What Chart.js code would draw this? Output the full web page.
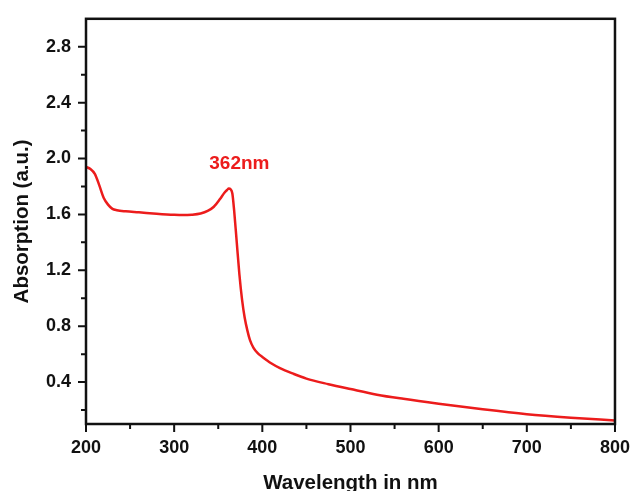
<!DOCTYPE html>
<html>
<head>
<meta charset="utf-8">
<script src="https://cdn.jsdelivr.net/npm/chart.js@4.4.1/dist/chart.umd.min.js"></script>
<style>
  html, body { margin: 0; padding: 0; background: #fff; }
  #wrap { width: 636px; height: 491px; }
</style>
</head>
<body>
<div id="wrap"><canvas id="uvChart" width="636" height="491"></canvas></div>
<script>
// UV-Vis absorption spectrum
const wavelengths = [200, 205, 210, 215, 220, 225, 230, 235, 245, 260, 280, 300, 310, 320, 330, 338, 345, 352, 357, 360, 362, 364, 366, 368, 371, 374, 377, 380, 383, 386, 390, 395, 400, 410, 420, 435, 450, 475, 500, 530, 560, 600, 650, 700, 750, 800];
const absorption = [1.94, 1.925, 1.89, 1.81, 1.72, 1.67, 1.64, 1.63, 1.622, 1.615, 1.605, 1.597, 1.595, 1.598, 1.607, 1.625, 1.655, 1.71, 1.755, 1.775, 1.785, 1.78, 1.75, 1.63, 1.40, 1.17, 0.99, 0.86, 0.77, 0.70, 0.645, 0.605, 0.58, 0.535, 0.50, 0.46, 0.425, 0.385, 0.35, 0.31, 0.28, 0.245, 0.205, 0.17, 0.145, 0.125];

const xMajorTicks = [200, 300, 400, 500, 600, 700, 800];
const xMinorTicks = [250, 350, 450, 550, 650, 750];
const yMajorTicks = [0.4, 0.8, 1.2, 1.6, 2.0, 2.4, 2.8];
const yMinorTicks = [0.2, 0.6, 1.0, 1.4, 1.8, 2.2, 2.6];

const peakText = '362nm';
const peakLabelAt = [374, 1.96];

const red = '#ec1c1c';
const black = '#111';

// frame, major/minor ticks and the peak label
const framePlugin = {
    id: 'frame',
    afterDraw(chart) {
        const { ctx, chartArea: a, scales } = chart;
        ctx.save();
        ctx.strokeStyle = black;
        ctx.lineWidth = 2.5;
        ctx.strokeRect(a.left, a.top, a.right - a.left, a.bottom - a.top);

        ctx.lineWidth = 2;
        ctx.beginPath();
        xMajorTicks.forEach(v => {
            const x = scales.x.getPixelForValue(v);
            ctx.moveTo(x, a.bottom); ctx.lineTo(x, a.bottom + 8);
        });
        xMinorTicks.forEach(v => {
            const x = scales.x.getPixelForValue(v);
            ctx.moveTo(x, a.bottom); ctx.lineTo(x, a.bottom + 5);
        });
        yMajorTicks.forEach(v => {
            const y = scales.y.getPixelForValue(v);
            ctx.moveTo(a.left, y); ctx.lineTo(a.left - 8, y);
        });
        yMinorTicks.forEach(v => {
            const y = scales.y.getPixelForValue(v);
            ctx.moveTo(a.left, y); ctx.lineTo(a.left - 5, y);
        });
        ctx.stroke();

        ctx.fillStyle = red;
        ctx.font = 'bold 19px "Liberation Sans", Arial, sans-serif';
        ctx.textAlign = 'center';
        ctx.textBaseline = 'middle';
        ctx.fillText(peakText, scales.x.getPixelForValue(peakLabelAt[0]), scales.y.getPixelForValue(peakLabelAt[1]));
        ctx.restore();
    }
};

const tickFont = { family: '"Liberation Sans", Arial, sans-serif', size: 18, weight: 'bold' };
const titleFont = { family: '"Liberation Sans", Arial, sans-serif', size: 20.5, weight: 'bold', lineHeight: 1 };

new Chart(document.getElementById('uvChart').getContext('2d'), {
    type: 'line',
    data: {
        datasets: [{
            data: wavelengths.map((w, i) => ({ x: w, y: absorption[i] })),
            borderColor: red,
            borderWidth: 2.5,
            pointRadius: 0,
            cubicInterpolationMode: 'monotone',
            fill: false
        }]
    },
    options: {
        responsive: false,
        animation: false,
        layout: {
            padding: { top: 15, right: 19, bottom: 0, left: 0 }
        },
        plugins: {
            legend: { display: false },
            tooltip: { enabled: false }
        },
        scales: {
            x: {
                type: 'linear',
                min: 200,
                max: 800,
                afterBuildTicks: scale => {
                    scale.ticks = xMajorTicks.map(v => ({ value: v }));
                },
                afterFit: scale => { scale.height = 67; },
                border: { display: false },
                grid: {
                    drawOnChartArea: false,
                    drawTicks: true,
                    tickLength: 7,
                    tickColor: 'transparent'
                },
                ticks: {
                    color: black,
                    font: tickFont,
                    padding: 6,
                    maxRotation: 0
                },
                title: {
                    display: true,
                    text: 'Wavelength in nm',
                    color: black,
                    font: titleFont,
                    padding: { top: 0, bottom: -3 }
                }
            },
            y: {
                min: 0.1,
                max: 3.0,
                afterBuildTicks: scale => {
                    scale.ticks = yMajorTicks.map(v => ({ value: v }));
                },
                afterFit: scale => { scale.width = 86; },
                border: { display: false },
                grid: {
                    drawOnChartArea: false,
                    drawTicks: true,
                    tickLength: 7,
                    tickColor: 'transparent'
                },
                ticks: {
                    color: black,
                    font: tickFont,
                    padding: 8,
                    callback: v => v.toFixed(1)
                },
                title: {
                    display: true,
                    text: 'Absorption (a.u.)',
                    color: black,
                    font: titleFont,
                    padding: { top: 12, bottom: 0 }
                }
            }
        }
    },
    plugins: [framePlugin]
});
</script>
</body>
</html>
